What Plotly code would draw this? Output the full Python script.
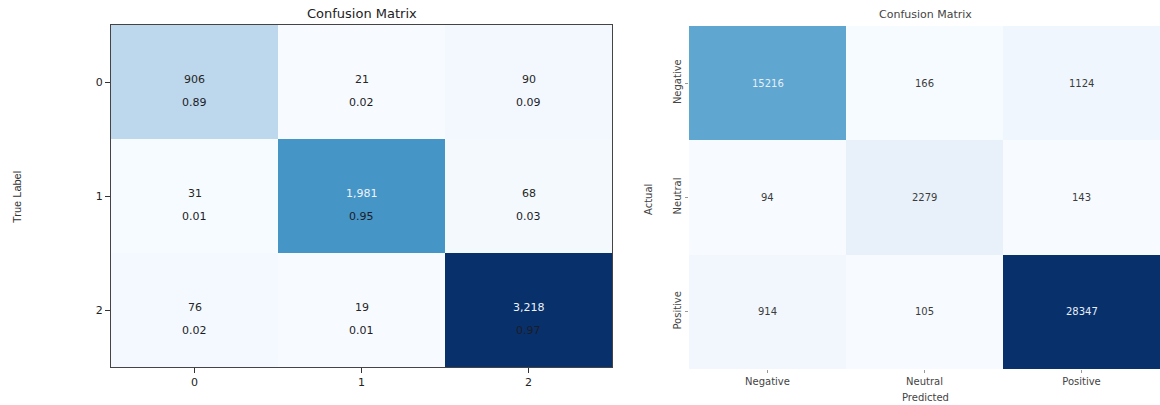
import plotly.graph_objects as go

# ---- data ----
left_labels = ["0", "1", "2"]
left_counts = [
    [906, 21, 90],
    [31, 1981, 68],
    [76, 19, 3218],
]
right_labels = ["Negative", "Neutral", "Positive"]
right_counts = [
    [15216, 166, 1124],
    [94, 2279, 143],
    [914, 105, 28347],
]
title_text = "Confusion Matrix"

blues = [
    [0.0, "rgb(247,251,255)"], [0.125, "rgb(222,235,247)"], [0.25, "rgb(198,219,239)"],
    [0.375, "rgb(158,202,225)"], [0.5, "rgb(107,174,214)"], [0.625, "rgb(66,146,198)"],
    [0.75, "rgb(33,113,181)"], [0.875, "rgb(8,81,156)"], [1.0, "rgb(8,48,107)"],
]

W, H = 1160, 405
def py(px):
    return 1 - px / H
def pxx(px):
    return px / W

fig = go.Figure()

lmin = min(min(r) for r in left_counts)
lmax = max(max(r) for r in left_counts)
rmin = min(min(r) for r in right_counts)
rmax = max(max(r) for r in right_counts)

fig.add_trace(go.Heatmap(
    z=left_counts, x=[0, 1, 2], y=[0, 1, 2], colorscale=blues,
    zmin=lmin, zmax=lmax, showscale=False, xaxis="x", yaxis="y",
    hoverinfo="z",
))
fig.add_trace(go.Heatmap(
    z=right_counts, x=[0, 1, 2], y=[0, 1, 2], colorscale=blues,
    zmin=rmin, zmax=rmax, showscale=False, xaxis="x2", yaxis="y2",
    hoverinfo="z",
))

annotations = []
dv = "DejaVu Sans"
for i, row in enumerate(left_counts):
    tot = sum(row)
    for j, v in enumerate(row):
        t = (v - lmin) / (lmax - lmin)
        ccol = "#eef4fb" if t > 0.5 else "#262626"
        annotations.append(dict(x=j, y=i, xref="x", yref="y", text=f"{v:,}",
                                showarrow=False, yshift=3,
                                font=dict(family=dv, size=11, color=ccol)))
        annotations.append(dict(x=j, y=i, xref="x", yref="y", text=f"{v / tot:.2f}",
                                showarrow=False, yshift=-20,
                                font=dict(family=dv, size=11, color="#1c1c28")))
for i, row in enumerate(right_counts):
    for j, v in enumerate(row):
        t = (v - rmin) / (rmax - rmin)
        ccol = "#e6eff9" if t > 0.5 else "#3c3c3c"
        annotations.append(dict(x=j, y=i, xref="x2", yref="y2", text=str(v),
                                showarrow=False,
                                font=dict(family=dv, size=10, color=ccol)))

def lab(x, y, text, size, color, family=dv, angle=0):
    return dict(x=pxx(x), y=py(y), xref="paper", yref="paper", text=text,
                showarrow=False, xanchor="center", yanchor="middle", textangle=angle,
                font=dict(family=family, size=size, color=color))

# titles and axis labels
annotations.append(lab(361.5, 14, title_text, 13, "#222"))
annotations.append(lab(925, 15, title_text, 11, "#444"))
annotations.append(lab(17, 197, "True Label", 11, "#333", family="Liberation Sans", angle=-90))
annotations.append(lab(648, 200, "Actual", 10, "#444", angle=-90))
annotations.append(lab(925, 397, "Predicted", 10, "#444"))

fig.update_layout(
    width=W, height=H, margin=dict(l=0, r=0, t=0, b=0),
    paper_bgcolor="white", plot_bgcolor="white",
    annotations=annotations,
    xaxis=dict(domain=[pxx(111), pxx(612)], anchor="y", tickmode="array",
               tickvals=[0, 1, 2], ticktext=left_labels, ticks="outside", ticklen=5,
               tickcolor="#333", showline=True, linecolor="#444", linewidth=1, mirror=True,
               showgrid=False, zeroline=False, range=[-0.5, 2.5],
               tickfont=dict(family=dv, size=11, color="#222")),
    yaxis=dict(domain=[py(367), py(25)], anchor="x", tickmode="array",
               tickvals=[0, 1, 2], ticktext=left_labels, ticks="outside", ticklen=5,
               tickcolor="#333", showline=True, linecolor="#444", linewidth=1, mirror=True,
               showgrid=False, zeroline=False, range=[2.5, -0.5],
               tickfont=dict(family=dv, size=11, color="#222")),
    xaxis2=dict(domain=[pxx(689), 1.0], anchor="y2", tickmode="array",
                tickvals=[0, 1, 2], ticktext=right_labels, ticks="outside", ticklen=3,
                tickcolor="#999", showline=False, showgrid=False, zeroline=False,
                range=[-0.5, 2.5],
                tickfont=dict(family=dv, size=10, color="#444")),
    yaxis2=dict(domain=[py(369), py(26)], anchor="x2", tickmode="array",
                tickvals=[0, 1, 2], ticktext=right_labels, ticks="outside", ticklen=3,
                tickcolor="#999", showline=False, showgrid=False, zeroline=False,
                range=[2.5, -0.5], tickangle=-90,
                tickfont=dict(family=dv, size=10, color="#444")),
)

fig.write_html("out.html")
